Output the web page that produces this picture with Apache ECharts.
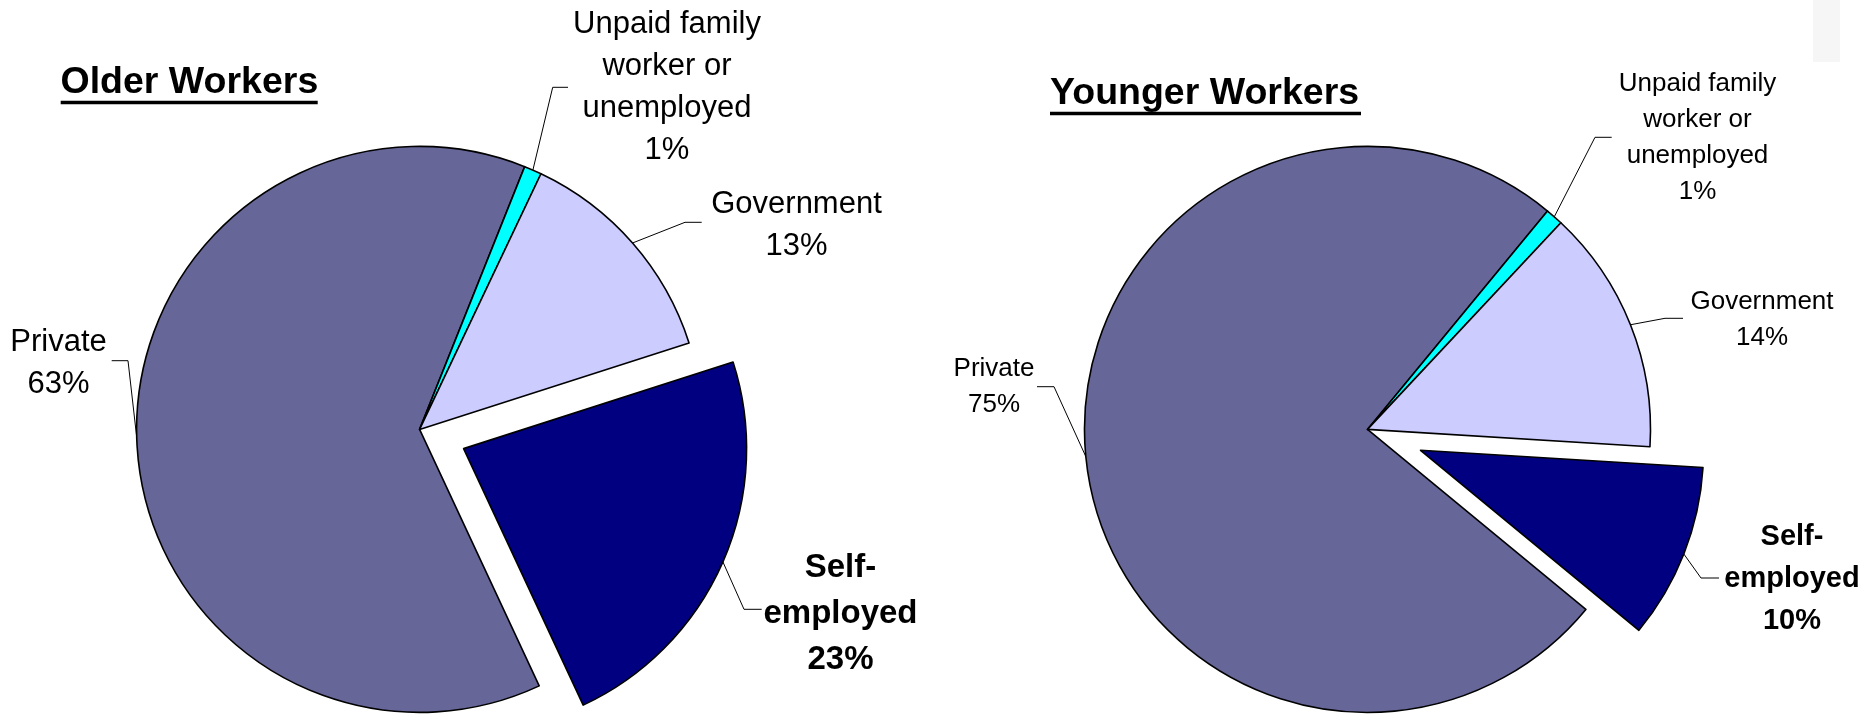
<!DOCTYPE html>
<html>
<head>
<meta charset="utf-8">
<title>Class of worker: older and younger workers</title>
<script src="https://cdn.jsdelivr.net/npm/echarts@6/dist/echarts.min.js"></script>
<style>
  html, body { margin: 0; padding: 0; background: #ffffff; }
  #chart { width: 1866px; height: 714px; }
</style>
</head>
<body>
<div id="chart"></div>
<script>
// ---- data ----
const categories = ['Private', 'Unpaid family\nworker or\nunemployed', 'Government', 'Self-\nemployed'];
const olderShares = [63, 1, 13, 23];
const youngerShares = [75, 1, 14, 10];
const panelTitles = ['Older Workers', 'Younger Workers'];

// ---- styling ----
const sliceColors = ['#666699', '#00FFFF', '#CCCCFF', '#000080'];
const EXPLODED = 3; // the self-employed slice is pulled out of each pie
const FONT = '"Liberation Sans", Arial, Helvetica, sans-serif';
const TITLE_SIZE = 37.5;

// ---- layout of the two panels ----
const panels = [
  {
    shares: olderShares, title: panelTitles[0],
    center: [419.6, 429.4], radius: 283, startAngle: -65, explode: 48,
    titleLeft: 60.5, titleTop: 64.2, underline: [60.7, 100.8, 257, 3.5],
    font: 31, lineHeight: 42, boldFont: 33, boldLineHeight: 46,
    labels: [
      { pos: [58.5, 363], bend: [128, 360.7], end: [111.7, 360.7] },
      { pos: [667, 87.5], bend: [552.7, 87.3], end: [568, 87.3] },
      { pos: [796.5, 225], bend: [685, 222.3], end: [701.7, 222.3] },
      { pos: [840.5, 614], bend: [744, 609.3], end: [761.7, 609.3] }
    ]
  },
  {
    shares: youngerShares, title: panelTitles[1],
    center: [1367.5, 429.4], radius: 283, startAngle: -39.5, explode: 57,
    titleLeft: 1050, titleTop: 74.5, underline: [1050, 111.7, 311, 3.5],
    font: 26, lineHeight: 36, boldFont: 29, boldLineHeight: 42,
    labels: [
      { pos: [994, 387], bend: [1054, 386.7], end: [1037, 386.7] },
      { pos: [1697.5, 138], bend: [1595, 137.3], end: [1611.7, 137.3] },
      { pos: [1762, 319.5], bend: [1665, 318.3], end: [1683, 318.3] },
      { pos: [1792, 578.5], bend: [1701, 578], end: [1719, 578] }
    ]
  }
];

// Angle (radians, ECharts convention) through the middle of one slice.
function sliceMidAngle(shares, index, startAngle) {
  const total = shares.reduce((a, b) => a + b, 0);
  let before = 0;
  for (let i = 0; i < index; i++) before += shares[i];
  return (startAngle - (before + shares[index] / 2) / total * 360) * Math.PI / 180;
}

const hiddenItem = { color: 'rgba(0,0,0,0)', borderWidth: 0 };

function labelStyleFor(panel, i) {
  const bold = i === EXPLODED;
  return {
    show: true,
    color: '#000000',
    fontFamily: FONT,
    fontWeight: bold ? 'bold' : 'normal',
    fontSize: bold ? panel.boldFont : panel.font,
    lineHeight: bold ? panel.boldLineHeight : panel.lineHeight,
    formatter: (p) => p.name + '\n' + p.value + '%'
  };
}

// One pie series; `visible` decides which slices are drawn in it.
function pieSeries(panel, center, visible) {
  return {
    type: 'pie',
    center: center,
    radius: panel.radius,
    startAngle: panel.startAngle,
    clockwise: true,
    avoidLabelOverlap: false,
    animation: false,
    silent: true,
    emphasis: { disabled: true },
    itemStyle: { borderColor: '#000000', borderWidth: 1.6 },
    labelLine: { show: true, length: 10, length2: 10, lineStyle: { color: '#000000', width: 1 } },
    data: categories.map((name, i) => {
      const on = visible(i);
      return {
        name: name,
        value: panel.shares[i],
        itemStyle: on ? { color: sliceColors[i] } : hiddenItem,
        label: on ? labelStyleFor(panel, i) : { show: false },
        labelLine: { show: on }
      };
    }),
    labelLayout: function (params) {
      const cfg = panel.labels[params.dataIndex];
      const pts = params.labelLinePoints;
      const start = pts && pts.length ? pts[0] : cfg.bend;
      return {
        x: cfg.pos[0],
        y: cfg.pos[1],
        align: 'center',
        verticalAlign: 'middle',
        labelLinePoints: [start, cfg.bend, cfg.end]
      };
    }
  };
}

const series = [];
const titles = [];
const graphics = [];
panels.forEach((panel) => {
  const mid = sliceMidAngle(panel.shares, EXPLODED, panel.startAngle);
  const shifted = [
    panel.center[0] + Math.cos(mid) * panel.explode,
    panel.center[1] - Math.sin(mid) * panel.explode
  ];
  series.push(pieSeries(panel, panel.center, (i) => i !== EXPLODED));
  series.push(pieSeries(panel, shifted, (i) => i === EXPLODED));

  titles.push({
    text: panel.title,
    left: panel.titleLeft,
    top: panel.titleTop,
    padding: 0,
    textStyle: { fontFamily: FONT, fontSize: TITLE_SIZE, fontWeight: 'bold', color: '#000000', lineHeight: TITLE_SIZE }
  });
  const u = panel.underline;
  graphics.push({
    type: 'rect', silent: true,
    shape: { x: u[0], y: u[1], width: u[2], height: u[3] },
    style: { fill: '#000000' }
  });
});

// faint strip in the upper right corner
graphics.push({
  type: 'rect', silent: true,
  shape: { x: 1813, y: 0, width: 27, height: 62 },
  style: { fill: '#f6f6f6' }
});

const chart = echarts.init(document.getElementById('chart'), null, { renderer: 'canvas' });
chart.setOption({
  backgroundColor: '#ffffff',
  animation: false,
  title: titles,
  graphic: graphics,
  series: series
});
</script>
</body>
</html>
